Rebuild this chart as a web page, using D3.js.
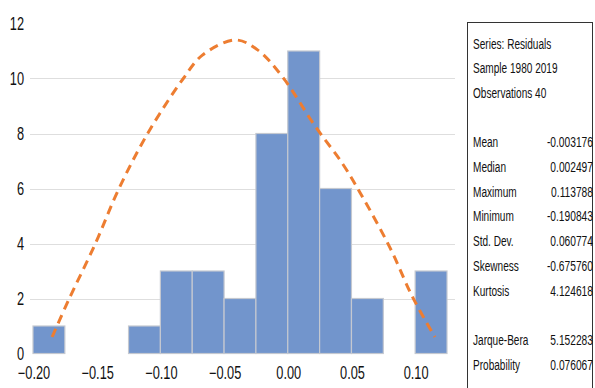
<!DOCTYPE html>
<html>
<head>
<meta charset="utf-8">
<script src="https://cdn.jsdelivr.net/npm/d3@7"></script>
<style>
  body { margin: 0; background: #fff; }
  svg text { font-family: "Liberation Sans", Arial, sans-serif; fill: #111; }
</style>
</head>
<body>
<div id="chart"></div>
<script>
(function(d3) {
    'use strict';

    // histogram bins (lower edge) and counts
    var binStarts = [-0.200, -0.175, -0.150, -0.125, -0.100, -0.075, -0.050, -0.025, 0.000, 0.025, 0.050, 0.075, 0.100];
    var binCounts = [1, 0, 0, 1, 3, 3, 2, 8, 11, 6, 2, 0, 3];
    var binWidth = 0.025;

    // dashed fitted curve
    var curveX = [-0.185, -0.172, -0.151, -0.133, -0.110, -0.082, -0.067, -0.041, -0.024, -0.004, 0.021, 0.043, 0.057, 0.080, 0.098, 0.1155];
    var curveY = [0.6, 1.95, 4.0, 5.95, 8.0, 10.0, 10.85, 11.4, 11.05, 10.05, 8.3, 6.9, 5.83, 3.87, 2.05, 0.6];

    var xTicks = [-0.20, -0.15, -0.10, -0.05, 0.00, 0.05, 0.10];
    var yTicks = [0, 2, 4, 6, 8, 10, 12];

    var statLabels = ['Series: Residuals', 'Sample 1980 2019', 'Observations 40', '',
      'Mean', 'Median', 'Maximum', 'Minimum', 'Std. Dev.', 'Skewness', 'Kurtosis', '',
      'Jarque-Bera', 'Probability'];
    var statValues = ['', '', '', '',
      '-0.003176', '0.002497', '0.113788', '-0.190843', '0.060774', '-0.675760', '4.124618', '',
      '5.152283', '0.076067'];

    var width = 595;
    var height = 388;
    var narrow = 0.73;   // squeeze text to look like a condensed face

    var svg = d3.select('#chart')
      .append('svg')
      .attr('width', width)
      .attr('height', height);

    var x = d3.scaleLinear()
      .domain([-0.2, 0.125])
      .range([33, 447]);

    var y = d3.scaleLinear()
      .domain([0, 12])
      .range([353.5, 23.5]);

    function squeeze(px, py, s) {
      return 'translate(' + px + ',' + py + ') scale(' + s + ',1)';
    }

    // gridlines
    svg.append('g')
      .selectAll('line')
      .data(yTicks.filter(function(d) { return d > 0 && d < 12; }))
      .enter()
      .append('line')
      .attr('x1', 30)
      .attr('x2', 455)
      .attr('y1', function(d) { return Math.round(y(d)) + 0.5; })
      .attr('y2', function(d) { return Math.round(y(d)) + 0.5; })
      .attr('stroke', '#dedede')
      .attr('stroke-width', 1);

    // y labels
    svg.append('g')
      .selectAll('text')
      .data(yTicks)
      .enter()
      .append('text')
      .attr('transform', function(d) { return squeeze(24, y(d), narrow); })
      .attr('dy', '0.36em')
      .attr('text-anchor', 'end')
      .style('font-size', '17.5px')
      .text(function(d) { return d; });

    // bars
    var bins = binStarts.map(function(s, i) { return { x0: s, count: binCounts[i] }; })
      .filter(function(d) { return d.count > 0; });

    svg.append('g')
      .selectAll('rect')
      .data(bins)
      .enter()
      .append('rect')
      .attr('x', function(d) { return x(d.x0); })
      .attr('y', function(d) { return y(d.count); })
      .attr('width', function(d) { return x(d.x0 + binWidth) - x(d.x0); })
      .attr('height', function(d) { return y(0) - y(d.count); })
      .attr('fill', '#7295cc')
      .attr('stroke', '#c4c8d0')
      .attr('stroke-width', 1.2);

    // x labels
    svg.append('g')
      .selectAll('text')
      .data(xTicks)
      .enter()
      .append('text')
      .attr('transform', function(d) { return squeeze(x(d) + 1, 373, narrow); })
      .attr('dy', '0.36em')
      .attr('text-anchor', 'middle')
      .style('font-size', '17.5px')
      .text(function(d) { return d3.format('.2f')(d); });

    // dashed curve
    var line = d3.line()
      .x(function(d) { return x(d[0]); })
      .y(function(d) { return y(d[1]); })
      .curve(d3.curveCatmullRom);

    svg.append('path')
      .datum(curveX.map(function(v, i) { return [v, curveY[i]]; }))
      .attr('d', line)
      .attr('fill', 'none')
      .attr('stroke', '#ed7d31')
      .attr('stroke-width', 3)
      .attr('stroke-dasharray', '9,6');

    // stats box
    svg.append('rect')
      .attr('x', 467.5)
      .attr('y', 22.5)
      .attr('width', 125)
      .attr('height', 400)
      .attr('fill', 'none')
      .attr('stroke', '#333')
      .attr('stroke-width', 1);

    var rowH = 24.7;
    var stats = svg.append('g');

    stats.selectAll('.slabel')
      .data(statLabels)
      .enter()
      .append('text')
      .attr('class', 'slabel')
      .attr('transform', function(d, i) { return squeeze(473, 43 + i * rowH, 0.65); })
      .attr('dy', '0.36em')
      .style('font-size', '15.5px')
      .text(function(d) { return d; });

    stats.selectAll('.svalue')
      .data(statValues)
      .enter()
      .append('text')
      .attr('class', 'svalue')
      .attr('transform', function(d, i) { return squeeze(593, 43 + i * rowH, 0.66); })
      .attr('dy', '0.36em')
      .attr('text-anchor', 'end')
      .style('font-size', '15.5px')
      .text(function(d) { return d; });

})(window.d3);
</script>
</body>
</html>
